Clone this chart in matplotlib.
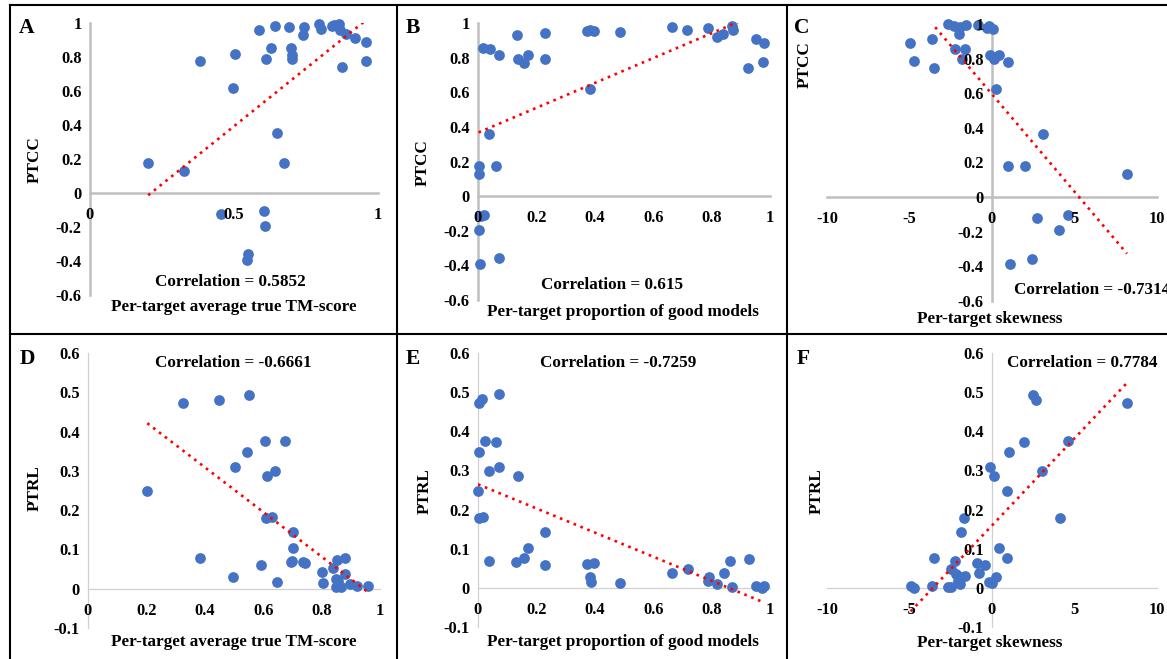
import numpy as np
import matplotlib
matplotlib.use("Agg")
import matplotlib.pyplot as plt
from matplotlib.ticker import MultipleLocator, FixedLocator, FuncFormatter

plt.rcParams["font.family"] = ["Liberation Serif", "DejaVu Serif"]
plt.rcParams["font.weight"] = "bold"

W, H = 1167, 659

# A: PTCC vs per-target average true TM-score
A_TM = [0.202, 0.325, 0.381, 0.502, 0.496, 0.454, 0.548, 0.544, 0.587, 0.644, 0.691,
        0.611, 0.630, 0.651, 0.674, 0.604, 0.609, 0.699, 0.701, 0.701, 0.743, 0.738,
        0.796, 0.803, 0.839, 0.848, 0.864, 0.867, 0.890, 0.920, 0.960, 0.957, 0.875]
A_PTCC = [0.176, 0.127, 0.775, 0.816, 0.620, -0.122, -0.357, -0.396, 0.961, 0.984, 0.976,
          0.790, 0.853, 0.355, 0.176, -0.104, -0.196, 0.853, 0.810, 0.790, 0.976, 0.929,
          0.992, 0.967, 0.980, 0.990, 0.996, 0.961, 0.937, 0.912, 0.886, 0.778, 0.743]

# B: PTCC vs per-target proportion of good models
B_PROP = [0.016, 0.041, 0.071, 0.135, 0.137, 0.157, 0.171, 0.230, 0.231, 0.373, 0.384,
          0.398, 0.384, 0.486, 0.664, 0.716, 0.787, 0.818, 0.840, 0.869, 0.875, 0.951,
          0.978, 0.975, 0.926, 0.039, 0.002, 0.005, 0.062, 0.021, 0.011, 0.002, 0.007, 0.071]
B_PTCC = [0.853, 0.849, 0.816, 0.932, 0.791, 0.771, 0.814, 0.942, 0.791, 0.952, 0.961,
          0.955, 0.616, 0.950, 0.975, 0.961, 0.969, 0.919, 0.934, 0.984, 0.959, 0.907,
          0.884, 0.777, 0.740, 0.359, 0.176, 0.126, 0.176, -0.107, -0.112, -0.194, -0.391, -0.359]

# C: PTCC vs per-target skewness
C_SKEW = [-4.95, -4.75, -3.66, -3.49, -2.65, -2.28, -1.92, -1.58, -2.00, -2.22, -1.64,
          -1.84, -0.87, -0.32, -0.16, 0.04, -0.14, 0.14, 0.44, 0.95, 0.22, 3.07, 0.95,
          2.00, 8.18, 2.73, 4.59, 4.08, 1.11, 2.44]
C_PTCC = [0.889, 0.784, 0.913, 0.748, 1.0, 0.99, 0.98, 0.996, 0.94, 0.854, 0.858,
          0.80, 0.994, 0.975, 0.99, 0.971, 0.823, 0.796, 0.819, 0.78, 0.625, 0.363, 0.181,
          0.181, 0.132, -0.12, -0.103, -0.19, -0.388, -0.355]

# D: PTRL vs per-target average true TM-score
D_TM = [0.203, 0.327, 0.447, 0.550, 0.382, 0.497, 0.545, 0.502, 0.606, 0.614, 0.639,
        0.675, 0.611, 0.630, 0.701, 0.703, 0.699, 0.694, 0.737, 0.744, 0.593, 0.646,
        0.800, 0.806, 0.840, 0.854, 0.881, 0.879, 0.849, 0.849, 0.867, 0.897, 0.922, 0.960, 0.857]
D_PTRL = [0.248, 0.473, 0.480, 0.492, 0.079, 0.031, 0.348, 0.309, 0.375, 0.286, 0.299,
          0.375, 0.181, 0.182, 0.144, 0.104, 0.070, 0.067, 0.069, 0.065, 0.060, 0.016,
          0.042, 0.015, 0.052, 0.072, 0.077, 0.038, 0.026, 0.004, 0.004, 0.013, 0.006, 0.008, 0.019]

# E: PTRL vs per-target proportion of good models
E_PROP = [0.002, 0.014, 0.071, 0.023, 0.062, 0.005, 0.039, 0.071, 0.137, 0.000, 0.002,
          0.018, 0.039, 0.130, 0.158, 0.171, 0.231, 0.229, 0.373, 0.398, 0.382, 0.386,
          0.487, 0.663, 0.718, 0.791, 0.789, 0.817, 0.841, 0.864, 0.871, 0.928, 0.951, 0.978, 0.971]
E_PTRL = [0.472, 0.483, 0.494, 0.374, 0.372, 0.347, 0.298, 0.308, 0.286, 0.247, 0.179,
          0.181, 0.068, 0.066, 0.077, 0.102, 0.142, 0.058, 0.061, 0.063, 0.029, 0.014,
          0.012, 0.039, 0.049, 0.029, 0.017, 0.009, 0.037, 0.068, 0.002, 0.075, 0.004, 0.004, 0.000]

# F: PTRL vs per-target skewness
F_SKEW = [-4.93, -4.73, -3.64, -3.54, -2.67, -2.46, -2.26, -2.46, -2.16, -1.86, -1.66,
          -1.96, -2.06, -1.86, -1.70, -0.89, -0.81, -0.40, -0.20, 0.00, 0.24, -0.14, 0.12,
          0.40, 0.93, 0.93, 1.05, 1.94, 2.46, 2.67, 3.03, 4.61, 4.10, 8.20]
F_PTRL = [0.006, 0.000, 0.004, 0.077, 0.002, 0.003, 0.068, 0.049, 0.036, 0.027, 0.030,
          0.009, 0.017, 0.142, 0.179, 0.063, 0.039, 0.058, 0.014, 0.013, 0.029, 0.308, 0.285,
          0.102, 0.077, 0.247, 0.347, 0.372, 0.492, 0.480, 0.298, 0.374, 0.179, 0.472]

CORR_TEXT = ["Correlation = 0.5852", "Correlation = 0.615", "Correlation = -0.7314",
             "Correlation = -0.6661", "Correlation = -0.7259", "Correlation = 0.7784"]

BLUE = "#4472C4"


def fx(x):
    return x / W


def fy(y):
    return 1 - y / H


def make_axes(fig, x0, x1, ytop, ybot):
    return fig.add_axes([fx(x0), fy(ybot), (x1 - x0) / W, (ybot - ytop) / H])


def fmt(v, pos):
    return "%g" % (round(v, 2) + 0.0)


def draw_panel(ax, x, y, xlim, ylim, xticks, ystep, spine_lw, spine_col):
    x = np.asarray(x)
    y = np.asarray(y)
    ax.scatter(x, y, s=60, color=BLUE, linewidths=0, zorder=1, clip_on=False)
    # linear trendline, clipped to the plot area like Excel does
    k, b = np.polyfit(x, y, 1)
    xs = np.array([x.min(), x.max()])
    ax.plot(xs, k * xs + b, color="red", lw=1.9, linestyle=(0, (1, 1.8)), zorder=2)

    ax.set_xlim(*xlim)
    ax.set_ylim(*ylim)
    ax.patch.set_visible(False)
    for s in ["top", "right"]:
        ax.spines[s].set_visible(False)
    for s in ["left", "bottom"]:
        ax.spines[s].set_position(("data", 0))
        ax.spines[s].set_linewidth(spine_lw)
        ax.spines[s].set_color(spine_col)
        ax.spines[s].set_zorder(0.5)
    ax.xaxis.set_major_locator(FixedLocator(xticks))
    ax.yaxis.set_major_locator(MultipleLocator(ystep))
    ax.xaxis.set_major_formatter(FuncFormatter(fmt))
    ax.yaxis.set_major_formatter(FuncFormatter(fmt))
    ax.tick_params(axis="x", length=0, pad=10, labelsize=11.8)
    ax.tick_params(axis="y", length=0, pad=6, labelsize=11.8)


def label(fig, x, y, s, size=12.3, rot=0, ha="center"):
    fig.text(fx(x), fy(y), s, ha=ha, va="center", fontsize=size, rotation=rot,
             fontweight="bold")


fig = plt.figure(figsize=(W / 100, H / 100), dpi=100)

ax_a = make_axes(fig, 90, 378, 23, 295)
draw_panel(ax_a, A_TM, A_PTCC, (0, 1), (-0.6, 1), [0, 0.5, 1], 0.2, 1.8, "#BFBFBF")
ax_b = make_axes(fig, 478, 770, 23, 300)
draw_panel(ax_b, B_PROP, B_PTCC, (0, 1), (-0.6, 1), np.arange(0, 1.01, 0.2), 0.2, 1.8, "#BFBFBF")
ax_c = make_axes(fig, 827, 1157, 24, 301)
draw_panel(ax_c, C_SKEW, C_PTCC, (-10, 10), (-0.6, 1), [-10, -5, 0, 5, 10], 0.2, 1.8, "#BFBFBF")
ax_d = make_axes(fig, 88, 380, 353, 628)
draw_panel(ax_d, D_TM, D_PTRL, (0, 1), (-0.1, 0.6), np.arange(0, 1.01, 0.2), 0.1, 0.9, "#D0D0D0")
ax_e = make_axes(fig, 478, 770, 353, 627)
draw_panel(ax_e, E_PROP, E_PTRL, (0, 1), (-0.1, 0.6), np.arange(0, 1.01, 0.2), 0.1, 0.9, "#D0D0D0")
ax_f = make_axes(fig, 827, 1157, 353, 627)
draw_panel(ax_f, F_SKEW, F_PTRL, (-10, 10), (-0.1, 0.6), [-10, -5, 0, 5, 10], 0.1, 0.9, "#D0D0D0")

# panel letters
for (x, y), s in zip([(27, 28), (413, 28), (802, 28), (27, 359), (413, 359), (803, 359)],
                     "ABCDEF"):
    label(fig, x, y, s, size=15.5)

# y labels
label(fig, 35, 160, "PTCC", rot=90)
label(fig, 423, 163, "PTCC", rot=90)
label(fig, 805, 65, "PTCC", rot=90)
label(fig, 35, 488, "PTRL", rot=90)
label(fig, 425, 491, "PTRL", rot=90)
label(fig, 817, 491, "PTRL", rot=90)

# x labels
label(fig, 234, 307, "Per-target average true TM-score")
label(fig, 623, 312, "Per-target proportion of good models")
label(fig, 990, 319, "Per-target skewness")
label(fig, 234, 642, "Per-target average true TM-score")
label(fig, 623, 642, "Per-target proportion of good models")
label(fig, 990, 643, "Per-target skewness")

# correlation texts
label(fig, 230, 282, CORR_TEXT[0])
label(fig, 612, 285, CORR_TEXT[1])
label(fig, 1014, 290, CORR_TEXT[2], ha="left")
label(fig, 233, 363, CORR_TEXT[3])
label(fig, 618, 363, CORR_TEXT[4])
label(fig, 1082, 363, CORR_TEXT[5])

# panel borders
border = dict(color="black", lw=1.5, transform=fig.transFigure)
fig.add_artist(plt.Line2D([fx(10), 1], [fy(5), fy(5)], **border))
fig.add_artist(plt.Line2D([fx(10), 1], [fy(334), fy(334)], **border))
for xb in [10, 397, 787]:
    fig.add_artist(plt.Line2D([fx(xb), fx(xb)], [fy(5), 0], **border))

fig.savefig("out.png", dpi=100)
